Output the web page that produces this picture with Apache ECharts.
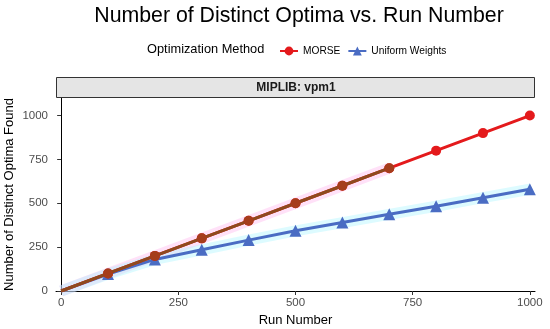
<!DOCTYPE html>
<html><head><meta charset="utf-8">
<script src="https://cdn.jsdelivr.net/npm/echarts@6/dist/echarts.min.js"></script>
<style>html,body{margin:0;padding:0;background:#fff}#c{width:550px;height:329px}</style>
</head><body><div id="c"></div>
<script>
const runs = [0,100,200,300,400,500,600,700,800,900,1000];
const morse = [0,100,200,300,400,500,600,700,800,900,1000];
const uniform = [0,97,180,235,290,343,390,437,483,532,580];
const overlayRuns = [0,100,200,300,400,500,600,700];
const xTicks = [0,250,500,750,1000];
const yTicks = [0,250,500,750,1000];

const FONT = 'Liberation Sans, Arial, sans-serif';
function pts(xs, ys){ return xs.map((x,i)=>({value:[x, ys[i]], symbolSize: x===0?0:undefined})); }

const chart = echarts.init(document.getElementById('c'));
chart.setOption({
  backgroundColor:'#fff',
  animation:false,
  title:{text:'Number of Distinct Optima vs. Run Number', left:294, textAlign:'center', top:1,
    textStyle:{fontFamily:FONT, fontSize:21.3, fontWeight:'normal', color:'#000'}},
  legend:{left:274, top:41, itemWidth:18, itemHeight:11, itemGap:7,
    data:['MORSE','Uniform Weights'],
    textStyle:{fontFamily:FONT, fontSize:10.2, color:'#000'}},
  graphic:[
    {type:'text', left:147, top:43, style:{text:'Optimization Method', font:'12.8px '+FONT, fill:'#000'}},
    {type:'rect', shape:{x:56.5, y:77.5, width:478, height:20}, style:{fill:'#E5E5E5', stroke:'#333', lineWidth:1}, z:10},
    {type:'text', x:296, y:88, style:{text:'MIPLIB: vpm1', font:'bold 12px '+FONT, fill:'#1a1a1a', textAlign:'center', textVerticalAlign:'middle'}, z:11}
  ],
  grid:{left:56, right:15, top:98, bottom:38, containLabel:false, outerBoundsMode:'none'},
  xAxis:{type:'value', min:-11, max:1011, name:'Run Number', nameLocation:'middle', nameGap:23, nameMoveOverlap:false,
    nameTextStyle:{fontFamily:FONT, fontSize:13, color:'#000'},
    axisLine:{lineStyle:{color:'#000', width:1}},
    axisTick:{length:4, lineStyle:{color:'#333'}, customValues:xTicks},
    axisLabel:{customValues:xTicks, formatter:v=>String(v), fontFamily:FONT, fontSize:11.5, color:'#4D4D4D', margin:6},
    splitLine:{show:false}},
  yAxis:{type:'value', min:0, max:1100, name:'Number of Distinct Optima Found', nameLocation:'middle', nameGap:40, nameMoveOverlap:false,
    nameTextStyle:{fontFamily:FONT, fontSize:13, color:'#000'},
    axisLine:{show:true, lineStyle:{color:'#000', width:1}},
    axisTick:{show:true, length:4, lineStyle:{color:'#333'}, customValues:yTicks},
    axisLabel:{customValues:yTicks, formatter:v=>String(v), fontFamily:FONT, fontSize:11.5, color:'#4D4D4D', margin:8},
    splitLine:{show:false}},
  series:[
    {name:'mhalo', type:'line', data:pts(overlayRuns, morse), symbol:'none', silent:true,
      lineStyle:{color:'rgba(255,170,235,0.35)', width:11}, z:1},
    {name:'uhalo', type:'line', data:pts(runs, uniform), symbol:'none', silent:true,
      lineStyle:{color:'rgba(170,245,255,0.4)', width:11}, z:1},
    {name:'Uniform Weights', type:'line', data:pts(runs, uniform), symbol:'triangle', symbolSize:12,
      itemStyle:{color:'#4A6CC3'}, lineStyle:{color:'#4A6CC3', width:3}, z:3},
    {name:'MORSE', type:'line', data:pts(runs, morse), symbol:'circle', symbolSize:10,
      itemStyle:{color:'#E41A1C'}, lineStyle:{color:'#E41A1C', width:3}, z:4},
    {name:'overlay', type:'line', data:pts(overlayRuns, morse), symbol:'circle', symbolSize:10,
      itemStyle:{color:'#A53D1C'}, lineStyle:{color:'#8E4A1E', width:3}, z:5}
  ]
});
</script></body></html>
